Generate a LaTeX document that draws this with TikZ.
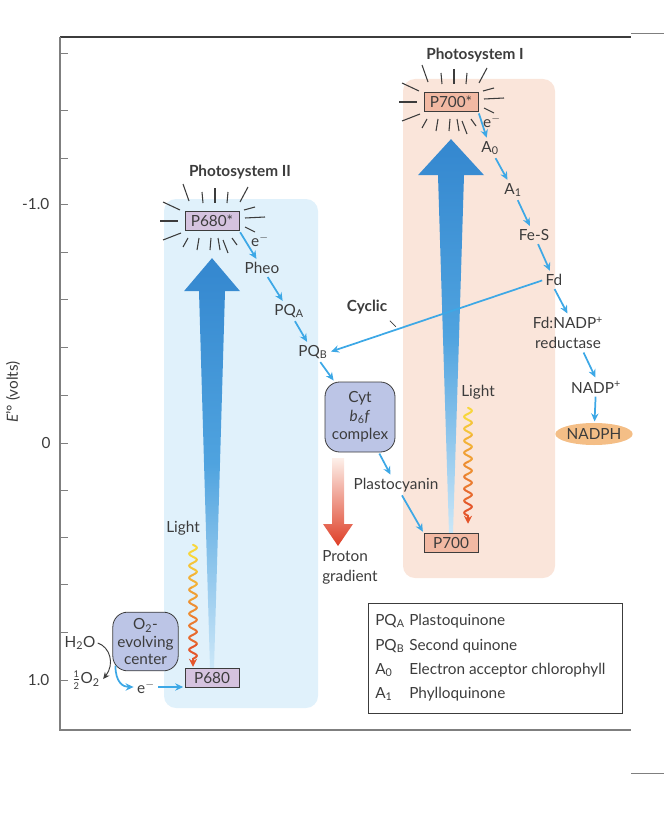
\documentclass[tikz,border=0pt]{standalone}
\usepackage{fontspec}
\setmainfont{Lato}
\usetikzlibrary{arrows.meta,shapes.geometric,calc}
\definecolor{ink}{HTML}{3C3C3C}
\definecolor{axisgray}{HTML}{7F7F7F}
\definecolor{etblue}{HTML}{3DA8E6}
\definecolor{psiibg}{HTML}{E0F1FB}
\definecolor{psibg}{HTML}{FAE5DA}
\definecolor{chlII}{HTML}{D5C3DF}
\definecolor{chlI}{HTML}{F2B9A3}
\definecolor{cplxfill}{HTML}{BCC5E6}
\definecolor{nadphfill}{HTML}{F4BE86}
\definecolor{beamtop}{HTML}{3487CF}
\definecolor{beammid}{HTML}{4FA3DF}
\definecolor{beambot}{HTML}{CBE7F8}
\definecolor{waveyel}{HTML}{F8D63C}
\definecolor{wavered}{HTML}{E4552B}
\definecolor{protontop}{HTML}{FDF0EA}
\definecolor{protonbot}{HTML}{DE3E26}

\newcommand\glowrays[1]{%
  \foreach \ax/\ay/\bx/\by in {-29/-37/-23/-20,-10/-29/-9/-18,3/-33/3/-18,16/-29/15/-18,36/-34/28/-19,
      -49/-19/-32/-11,-52/0/-34/0,-49/19/-31/12,
      32/-11/43/-14,33/-3/53/-4,33/6/43/11,
      -29/26/-24/17,-15/29/-13/17,-2/29/-1/17,8/29/6/17,16/32/11/19,25/24/20/17}
    \draw[ink,line width=0.8pt] ($(#1)+(\ax,\ay)$) -- ($(#1)+(\bx,\by)$);
}
\newcommand\lightwave[2]{%
  \begin{scope}[shift={(#1)}]
    \foreach \i in {0,...,7}{
      \pgfmathtruncatemacro\mix{100-\i*14}
      \pgfmathsetmacro\da{\i*#2/8}
      \pgfmathsetmacro\db{(\i+1)*#2/8}
      \draw[waveyel!\mix!wavered,line width=1.5pt,line cap=round]
        plot[domain=\da:\db,samples=25,smooth] ({3.8*sin(30*\x)},\x);
    }
    \draw[wavered,line width=1.5pt,-{Stealth[length=6pt,width=6pt]}] (0,#2-1) -- (0,#2+8);
  \end{scope}}

\begin{document}
\begin{tikzpicture}[x=0.75pt,y=-0.75pt,
    every node/.style={font=\fontsize{11.5}{14}\selectfont,text=ink}]
  \tikzstyle{carrier}=[inner sep=1.5pt]
  \tikzstyle{pstitle}=[font=\fontsize{11.5}{14}\selectfont\bfseries]
  \tikzstyle{chl}=[draw=ink,line width=0.7pt,minimum width=40.5pt,minimum height=14.5pt,inner sep=0pt]
  \tikzstyle{cplx}=[draw=ink,line width=0.6pt,fill=cplxfill,rounded corners=11pt,align=center,inner sep=0pt]
  \tikzstyle{et}=[etblue,line width=1.3pt,-{Stealth[length=6pt,width=5.5pt]},shorten <=1pt,shorten >=1pt]
  \tikzstyle{axtick}=[axisgray,line width=0.7pt]
  \useasboundingbox (0,0) rectangle (664,820);

  % frame and energy axis
  \draw[ink,line width=1pt] (60,37) -- (631,37);
  \draw[axisgray,line width=0.6pt] (631,33) -- (664,33);
  \draw[axisgray,line width=1pt] (60,37) -- (60,730) -- (631,730);
  \draw[axisgray,line width=0.6pt] (631,773) -- (664,773);
  \foreach \y in {53,110,158,204,252,299,347,395,443,490,537,584,632,680}
    \draw[axtick] (60,\y) -- (68,\y);
  \node[anchor=east] (ym1) at (54,204) {-1.0};
  \node (y0) at (46,443) {0};
  \node[anchor=east] (y1) at (54,680) {1.0};
  \node[rotate=90] (ylab) at (13,392) {\textit{E}'° (volts)};

  % photosystem panels
  \fill[psiibg,rounded corners=9pt] (164,199) rectangle (318,708);
  \fill[psibg,rounded corners=9pt] (403,79) rectangle (555,578);
  \node[pstitle] (psii) at (240,172) {Photosystem II};
  \node[pstitle] (psi) at (475,55) {Photosystem I};

  \node[chl,fill=chlII] (p680s) at (212,221) {P680*};
  \node[chl,fill=chlII] (p680) at (212,678) {P680};
  \node[chl,fill=chlI] (p700s) at (451,102) {P700*};
  \node[chl,fill=chlI] (p700) at (451,543) {P700};
  \glowrays{p680s}
  \glowrays{p700s}

  \shade[top color=beamtop,bottom color=beambot,middle color=beammid]
    ($(p680s.south)+(0,27)$) -- ++(28,33) -- ++(-15,0) -- ($(p680.north)+(2,0)$)
    -- ($(p680.north)+(-2,0)$) -- ($(p680s.south)+(-13,60)$) -- ++(-15,0) -- cycle;
  \shade[top color=beamtop,bottom color=beambot,middle color=beammid]
    ($(p700s.south)+(0,27)$) -- ++(33,36) -- ++(-20,0) -- ($(p700.north)+(2,0)$)
    -- ($(p700.north)+(-2,0)$) -- ($(p700s.south)+(-13,63)$) -- ++(-20,0) -- cycle;

  \node (lightII) at (183,528) {Light};
  \node (lightI) at (478,392) {Light};
  \coordinate (lwII) at ($(lightII.south)+(10,5)$);
  \coordinate (lwI) at ($(lightI.south)+(-10,4)$);
  \lightwave{lwII}{114}
  \lightwave{lwI}{108}

  % electron carriers
  \node[carrier] (eII) at (260,240) {e$^-$};
  \node[carrier] (pheo) at (262,268) {Pheo};
  \node[carrier] (pqa) at (289,311) {PQ\textsubscript{A}};
  \node[carrier] (pqb) at (313,352) {PQ\textsubscript{B}};
  \node[cplx,minimum width=52.5pt,minimum height=52.5pt] (cyt) at (360,417) {Cyt\\\textit{b}\textsubscript{6}\textit{f}\\complex};
  \node[carrier] (pc) at (396,485) {Plastocyanin};
  \node[carrier,align=left,anchor=north west,font=\fontsize{11.5}{15}\selectfont] (proton) at (320,548) {Proton\\gradient};
  \shade[top color=protontop,bottom color=protonbot]
    (332,458) -- (344,458) -- (344,524) -- (353,524) -- (338,546) -- (323,524) -- (332,524) -- cycle;

  \node[carrier] (eI) at (492,121) {e$^-$};
  \node[carrier] (a0) at (490,148) {A\textsubscript{0}};
  \node[carrier] (a1) at (513,190) {A\textsubscript{1}};
  \node[carrier] (fes) at (534,235) {Fe-S};
  \node[carrier] (fd) at (554,280) {Fd};
  \node[carrier,align=center,font=\fontsize{11.5}{15}\selectfont] (fnr) at (568,333) {Fd:NADP\textsuperscript{+}\\reductase};
  \node[carrier] (nadpp) at (596,387) {NADP\textsuperscript{+}};
  \node[ellipse,fill=nadphfill,minimum width=55.5pt,minimum height=16.5pt,inner sep=0pt] (nadph) at (594,434) {NADPH};
  \node[pstitle] (cyc) at (367,307) {Cyclic};

  \node[cplx,minimum width=49pt,minimum height=44pt,font=\fontsize{11.5}{13}\selectfont] (o2c) at (145.5,641.5) {O\textsubscript{2}-\\evolving\\center};
  \node[carrier] (h2o) at (80,643) {H\textsubscript{2}O};
  \node[carrier] (halfo2) at (86,680) {$\frac{\mbox{\scriptsize 1}}{\mbox{\scriptsize 2}}$O\textsubscript{2}};
  \node[carrier] (eo) at (146,687) {e$^-$};

  % electron flow
  \draw[et] (p680s.south east) -- (pheo);
  \draw[et] (pheo) -- (pqa);
  \draw[et] (pqa) -- (pqb);
  \draw[et] (pqb) -- (cyt);
  \draw[et] (cyt) -- (pc);
  \draw[et] (pc) -- (p700.north west);
  \draw[et] (p700s.south east) -- (a0);
  \draw[et] (a0) -- (a1);
  \draw[et] (a1) -- (fes);
  \draw[et] (fes) -- (fd);
  \draw[et] (fd.south) -- (fnr.north);
  \draw[et] ($(fnr.south)+(15,0)$) -- (nadpp.north);
  \draw[et] (nadpp) -- (nadph);
  \draw[et] (fd.west) -- (pqb.east);
  \draw[ink,line width=0.6pt] ($(cyc.south east)+(-2,2)$) -- ++(6,6);

  \draw[ink,line width=0.7pt,-{Stealth[length=5pt,width=4.5pt]}] (h2o.east) .. controls (110,647) and (115,664) .. ($(halfo2.east)+(1,-1)$);
  \draw[et] ($(o2c.south west)+(3,-7)$) .. controls +(0,18) and +(-12,0) .. (eo.west);
  \draw[et] (eo.east) -- (eo.east -| p680.west);

  % key
  \node[draw=ink,line width=0.6pt,minimum width=190.5pt,minimum height=82.5pt,inner sep=0pt] (legend) at (495,658) {};
  \foreach \t/\d/\y [count=\k] in {PQ\textsubscript{A}/Plastoquinone/625,PQ\textsubscript{B}/Second quinone/650,A\textsubscript{0}/Electron acceptor chlorophyll/674,A\textsubscript{1}/Phylloquinone/698}{
    \node[anchor=base west,inner sep=0pt] (key\k) at (375,\y) {\t};
    \node[anchor=base west,inner sep=0pt] (desc\k) at (409,\y) {\d};
  }
\end{tikzpicture}
\end{document}
